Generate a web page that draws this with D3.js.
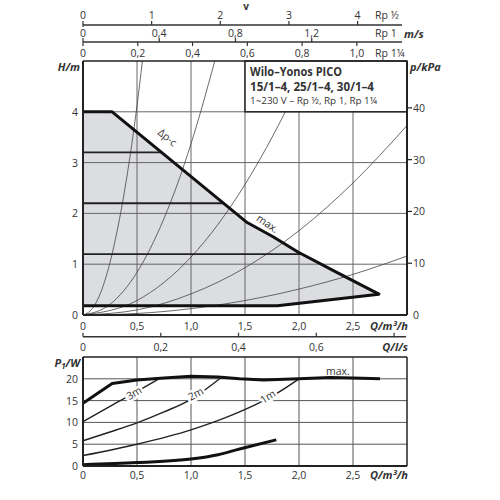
<!DOCTYPE html>
<html><head><meta charset="utf-8">
<script src="https://cdn.jsdelivr.net/npm/d3@7"></script>
<style>
body{margin:0;background:#fff}
svg{display:block}
text{font-family:"Open Sans","Noto Sans",sans-serif;fill:#333}
</style>
</head><body>
<svg id="c" width="500" height="500"></svg>
<script>
// ---------- data ----------
const qTicks = [0, 0.5, 1, 1.5, 2, 2.5];
const hTicks = [0, 1, 2, 3, 4];
const kpaTicks = [0, 10, 20, 30, 40];
const lsTicks = [0, 0.2, 0.4, 0.6, 0.8];
const lsLabelled = [0, 0.2, 0.4, 0.6];
const pTicks = [0, 5, 10, 15, 20];
const vTicksRpHalf = [0, 1, 2, 3, 4];
const vTicksRp1 = [0, 0.4, 0.8, 1.2];
const vTicksRp114 = [0, 0.2, 0.4, 0.6, 0.8, 1.0];
const pipeNames = ["Rp ½", "Rp 1", "Rp 1¼"];
const pipeVatQmax = [4.72, 1.70, 1.183];   // m/s at Q = 3 m³/h for each pipe size

// H-Q envelope (Δp-c / max / min)
const envQ = [0, 0.27, 1.52, 1.76, 1.99, 2.35, 2.74, 1.80, 0];
const envH = [4, 4, 1.82, 1.54, 1.24, 0.84, 0.41, 0.18, 0.18];
const dpcLevels = [3.2, 2.2, 1.2];

// system curves
const sysQ = [
  [0, 0.1, 0.2, 0.3, 0.4, 0.5, 0.55],
  [0, 0.25, 0.5, 0.75, 1.0, 1.1, 1.22],
  [0, 0.5, 1.0, 1.5, 1.7, 1.89, 2.1],
  [0, 0.5, 1.0, 1.5, 2.0, 2.5, 3.0],
  [0, 0.5, 1.0, 1.5, 2.0, 2.5, 3.0]
];
const sysH = [
  [0, 0.165, 0.66, 1.49, 2.64, 4.12, 5.0],
  [0, 0.21, 0.84, 1.9, 3.37, 4.08, 5.0],
  [0, 0.285, 1.14, 2.57, 3.3, 4.07, 5.0],
  [0, 0.10, 0.415, 0.93, 1.66, 2.6, 3.73],
  [0, 0.03, 0.125, 0.285, 0.51, 0.80, 1.16]
];

// power curves P1/W
const pMaxQ = [0, 0.27, 0.5, 0.75, 1.0, 1.25, 1.45, 1.67, 2.0, 2.29, 2.5, 2.75];
const pMaxP = [14.4, 18.9, 19.7, 20.2, 20.6, 20.4, 20.0, 19.7, 20.0, 20.3, 20.2, 20.0];
const p3Q = [0, 0.25, 0.5, 0.71];
const p3P = [10.2, 13.7, 17.1, 20.1];
const p2Q = [0, 0.25, 0.5, 0.75, 1.0, 1.28];
const p2P = [5.8, 7.8, 9.9, 12.4, 15.3, 20.3];
const p1Q = [0, 0.5, 1.0, 1.36, 1.64, 1.81, 2.0];
const p1P = [2.4, 5.0, 8.3, 11.5, 14.6, 16.9, 20.0];
const pMinQ = [0, 0.5, 1.0, 1.25, 1.45, 1.79];
const pMinP = [0.3, 0.8, 1.6, 2.6, 3.9, 6.0];
const curveLabels = ["3m", "2m", "1m"];
const curveLabelQ = [0.49, 1.06, 1.73];
const curveLabelP = [16.9, 16.7, 16.1];

// ---------- scales ----------
const svg = d3.select("#c");
const loc = d3.formatLocale({decimal: ",", thousands: ".", grouping: [3], currency: ["", ""]});
const f1 = d => d === 0 ? "0" : loc.format(".1f")(d);
const f0 = d => loc.format("d")(d);

const x = d3.scaleLinear().domain([0, 3]).range([83, 407]);
const yH = d3.scaleLinear().domain([0, 5]).range([315, 61]);
const yK = d3.scaleLinear().domain([0, 5 * 9.81]).range([315, 61]);
const yP = d3.scaleLinear().domain([0, 25]).range([466, 357]);
const xLs = d3.scaleLinear().domain([0, 3 / 3.6]).range([83, 407]);
const xV = pipeVatQmax.map(v => d3.scaleLinear().domain([0, v]).range([83, 407]));

const zip = (a, b) => a.map((d, i) => [d, b[i]]);
const lineH = d3.line().x(d => x(d[0])).y(d => yH(d[1]));
const lineP = d3.line().x(d => x(d[0])).y(d => yP(d[1]));

// ---------- top velocity axes ----------
const topG = svg.append("g");
const axA = 25, axB = 42;
topG.append("line").attr("x1", 83).attr("x2", 402).attr("y1", axA).attr("y2", axA).attr("stroke", "#333").attr("stroke-width", 1.5);
topG.append("line").attr("x1", 83).attr("x2", 402).attr("y1", axB).attr("y2", axB).attr("stroke", "#333").attr("stroke-width", 1.5);
topG.selectAll(".ta").data(vTicksRpHalf).join("line")
  .attr("x1", d => xV[0](d)).attr("x2", d => xV[0](d))
  .attr("y1", d => d === 0 ? axA + 2 : axA).attr("y2", axA - 4).attr("stroke", "#333").attr("stroke-width", 1.2);
topG.selectAll(".tal").data(vTicksRpHalf).join("text")
  .attr("x", d => xV[0](d)).attr("y", 19).attr("text-anchor", "middle").attr("font-size", 10.5).text(f0);
topG.selectAll(".tb").data(vTicksRp1).join("line")
  .attr("x1", d => xV[1](d)).attr("x2", d => xV[1](d))
  .attr("y1", axB).attr("y2", axB - 4).attr("stroke", "#333").attr("stroke-width", 1.2);
topG.selectAll(".tbl").data(vTicksRp1).join("text")
  .attr("x", d => xV[1](d)).attr("y", 37).attr("text-anchor", "middle").attr("font-size", 10.5).text(f1);
topG.selectAll(".tc").data(vTicksRp114).join("line")
  .attr("x1", d => xV[2](d)).attr("x2", d => xV[2](d))
  .attr("y1", axB).attr("y2", axB + 4).attr("stroke", "#333").attr("stroke-width", 1.2);
topG.selectAll(".tcl").data(vTicksRp114).join("text")
  .attr("x", d => xV[2](d)).attr("y", 57).attr("text-anchor", "middle").attr("font-size", 10.5).text(f1);
topG.selectAll(".pn").data(pipeNames).join("text")
  .attr("x", 375).attr("y", (d, i) => [19, 37, 57][i]).attr("font-size", 10.5).text(d => d);
topG.append("text").attr("x", 404).attr("y", 38).attr("font-size", 11).attr("font-weight", "bold").attr("font-style", "italic").attr("fill", "#222").text("m/s");
topG.append("text").attr("x", 246).attr("y", 10).attr("text-anchor", "middle").attr("font-size", 10).attr("font-weight", "bold").attr("fill", "#222").text("v");

// ---------- main H-Q chart ----------
const main = svg.append("g");
main.append("path")
  .attr("d", lineH(zip(envQ, envH)) + "Z")
  .attr("fill", "#dcdde0").attr("stroke", "none");

// grid
main.selectAll(".gv").data(qTicks.slice(1)).join("line")
  .attr("x1", d => x(d)).attr("x2", d => x(d)).attr("y1", yH(0)).attr("y2", yH(5))
  .attr("stroke", "#666").attr("stroke-width", 1);
main.selectAll(".gh").data(hTicks.slice(1)).join("line")
  .attr("x1", x(0)).attr("x2", x(3)).attr("y1", d => yH(d)).attr("y2", d => yH(d))
  .attr("stroke", "#666").attr("stroke-width", 1);

// system curves
main.append("clipPath").attr("id", "clipH").append("rect")
  .attr("x", x(0)).attr("y", yH(5)).attr("width", x(3) - x(0)).attr("height", yH(0) - yH(5));
const sysG = main.append("g").attr("clip-path", "url(#clipH)");
const lineHs = d3.line().x(d => x(d[0])).y(d => yH(d[1])).curve(d3.curveMonotoneX);
sysQ.forEach((qs, i) => {
  sysG.append("path").attr("d", lineHs(zip(qs, sysH[i])))
    .attr("fill", "none").attr("stroke", "#444").attr("stroke-width", 0.8);
});

// Δp-c setting lines: from axis to the envelope's falling edge
const fall = zip(envQ, envH).slice(1, 7);
function qAtH(h) {
  for (let i = 0; i < fall.length - 1; i++) {
    const [q0, h0] = fall[i], [q1, h1] = fall[i + 1];
    if (h <= h0 && h >= h1) return q0 + (h0 - h) / (h0 - h1) * (q1 - q0);
  }
  return fall[fall.length - 1][0];
}
main.selectAll(".dpc").data(dpcLevels).join("line")
  .attr("x1", x(0)).attr("x2", d => x(qAtH(d))).attr("y1", d => yH(d)).attr("y2", d => yH(d))
  .attr("stroke", "#222").attr("stroke-width", 1.8);

// envelope thick outline
main.append("path").attr("d", lineH(zip(envQ, envH)))
  .attr("fill", "none").attr("stroke", "#111").attr("stroke-width", 3).attr("stroke-linejoin", "round");

// title box
main.append("rect").attr("x", x(1.5)).attr("y", yH(5)).attr("width", x(3) - x(1.5)).attr("height", yH(4) - yH(5))
  .attr("fill", "#fff").attr("stroke", "#222").attr("stroke-width", 1.5);
main.append("text").attr("x", 250).attr("y", 76).attr("font-size", 11.5).attr("font-weight", "bold").attr("fill", "#222")
  .attr("textLength", 92).attr("lengthAdjust", "spacingAndGlyphs").text("Wilo–Yonos PICO");
main.append("text").attr("x", 250).attr("y", 91).attr("font-size", 12).attr("font-weight", "bold").attr("fill", "#222")
  .attr("textLength", 124).attr("lengthAdjust", "spacingAndGlyphs").text("15/1–4, 25/1–4, 30/1–4");
main.append("text").attr("x", 250).attr("y", 104).attr("font-size", 9.5).attr("fill", "#444")
  .attr("textLength", 127).attr("lengthAdjust", "spacingAndGlyphs").text("1~230 V – Rp ½, Rp 1, Rp 1¼");

// borders
main.append("line").attr("x1", x(0)).attr("x2", x(3)).attr("y1", yH(5)).attr("y2", yH(5)).attr("stroke", "#222").attr("stroke-width", 1.5);
main.append("line").attr("x1", x(0)).attr("x2", x(3)).attr("y1", yH(0)).attr("y2", yH(0)).attr("stroke", "#222").attr("stroke-width", 2);
main.append("line").attr("x1", x(0)).attr("x2", x(0)).attr("y1", yH(0)).attr("y2", yH(5)).attr("stroke", "#222").attr("stroke-width", 2);
main.append("line").attr("x1", x(3)).attr("x2", x(3)).attr("y1", yH(0)).attr("y2", yH(5)).attr("stroke", "#222").attr("stroke-width", 2);

// tick labels
main.selectAll(".hl").data(hTicks).join("text")
  .attr("x", 78).attr("y", d => yH(d) + 4).attr("text-anchor", "end").attr("font-size", 10.5).text(f0);
main.selectAll(".kt").data(kpaTicks.slice(1)).join("line")
  .attr("x1", x(3)).attr("x2", x(3) + 5).attr("y1", d => yK(d)).attr("y2", d => yK(d)).attr("stroke", "#222").attr("stroke-width", 1.2);
main.selectAll(".kl").data(kpaTicks).join("text")
  .attr("x", x(3) + 6).attr("y", d => yK(d) + 4).attr("font-size", 10.5).text(f0);
main.selectAll(".ql").data(qTicks).join("text")
  .attr("x", d => x(d)).attr("y", 330).attr("text-anchor", "middle").attr("font-size", 10.5).text(f1);
main.append("text").attr("x", 408).attr("y", 330).attr("text-anchor", "end").attr("font-size", 11).attr("font-weight", "bold").attr("font-style", "italic").attr("fill", "#222").text("Q/m³/h");
main.append("text").attr("x", 80).attr("y", 71).attr("text-anchor", "end").attr("font-size", 11).attr("font-weight", "bold").attr("font-style", "italic").attr("fill", "#222").text("H/m");
main.append("text").attr("x", 410).attr("y", 71).attr("font-size", 11).attr("font-weight", "bold").attr("font-style", "italic").attr("fill", "#222").text("p/kPa");

// curve labels in main chart
main.append("text").attr("transform", `translate(${x(0.76)},${yH(3.44)}) rotate(39)`)
  .attr("text-anchor", "middle").attr("font-size", 10.5).text("Δp-c");
main.append("text").attr("transform", `translate(${x(1.69)},${yH(1.74)}) rotate(34)`)
  .attr("text-anchor", "middle").attr("font-size", 10.5).text("max.");

// ---------- l/s axis ----------
const ls = svg.append("g");
const axL = 336.7;
ls.append("line").attr("x1", 83).attr("x2", 406).attr("y1", axL).attr("y2", axL).attr("stroke", "#333").attr("stroke-width", 1.5);
ls.selectAll(".lt").data(lsTicks).join("line")
  .attr("x1", d => xLs(d)).attr("x2", d => xLs(d)).attr("y1", axL).attr("y2", axL - 4).attr("stroke", "#333").attr("stroke-width", 1.2);
ls.selectAll(".ll").data(lsLabelled).join("text")
  .attr("x", d => xLs(d)).attr("y", 351).attr("text-anchor", "middle").attr("font-size", 10.5).text(f1);
ls.append("text").attr("x", 408).attr("y", 351).attr("text-anchor", "end").attr("font-size", 11).attr("font-weight", "bold").attr("font-style", "italic").attr("fill", "#222").text("Q/l/s");

// ---------- power chart ----------
const pw = svg.append("g");
pw.selectAll(".pgv").data(qTicks.slice(1)).join("line")
  .attr("x1", d => x(d)).attr("x2", d => x(d)).attr("y1", yP(0)).attr("y2", yP(25)).attr("stroke", "#555").attr("stroke-width", 1);
pw.selectAll(".pgh").data(pTicks.slice(1)).join("line")
  .attr("x1", x(0)).attr("x2", x(3)).attr("y1", d => yP(d)).attr("y2", d => yP(d)).attr("stroke", "#555").attr("stroke-width", 1);

const linePs = d3.line().x(d => x(d[0])).y(d => yP(d[1])).curve(d3.curveMonotoneX);
const thin = [[p3Q, p3P], [p2Q, p2P], [p1Q, p1P]];
thin.forEach(([q, p]) => {
  pw.append("path").attr("d", linePs(zip(q, p)))
    .attr("fill", "none").attr("stroke", "#222").attr("stroke-width", 1.4);
});
pw.append("path").attr("d", linePs(zip(pMinQ, pMinP)))
  .attr("fill", "none").attr("stroke", "#111").attr("stroke-width", 3);
pw.append("path").attr("d", lineP(zip(pMaxQ, pMaxP)))
  .attr("fill", "none").attr("stroke", "#111").attr("stroke-width", 3).attr("stroke-linejoin", "round");

const rot = [-31, -28, -33];
pw.selectAll(".cl").data(curveLabels).join("text")
  .attr("transform", (d, i) => `translate(${x(curveLabelQ[i])},${yP(curveLabelP[i]) + 4}) rotate(${rot[i]})`)
  .attr("text-anchor", "middle").attr("font-size", 10.5)
  .attr("stroke", "#fff").attr("stroke-width", 5).attr("paint-order", "stroke").text(d => d);
pw.append("text").attr("x", x(2.36)).attr("y", yP(21.7) + 4).attr("text-anchor", "middle").attr("font-size", 10.5).text("max.");

pw.append("line").attr("x1", x(0)).attr("x2", x(3)).attr("y1", yP(25)).attr("y2", yP(25)).attr("stroke", "#222").attr("stroke-width", 1.5);
pw.append("line").attr("x1", x(0)).attr("x2", x(3)).attr("y1", yP(0)).attr("y2", yP(0)).attr("stroke", "#222").attr("stroke-width", 2);
pw.append("line").attr("x1", x(0)).attr("x2", x(0)).attr("y1", yP(0)).attr("y2", yP(25)).attr("stroke", "#222").attr("stroke-width", 2);
pw.append("line").attr("x1", x(3)).attr("x2", x(3)).attr("y1", yP(0)).attr("y2", yP(25)).attr("stroke", "#222").attr("stroke-width", 1.5);

pw.selectAll(".pl").data(pTicks).join("text")
  .attr("x", 78).attr("y", d => yP(d) + 4).attr("text-anchor", "end").attr("font-size", 10.5).text(f0);
pw.selectAll(".pql").data(qTicks).join("text")
  .attr("x", d => x(d)).attr("y", 479).attr("text-anchor", "middle").attr("font-size", 10.5).text(f1);
pw.append("text").attr("x", 408).attr("y", 479).attr("text-anchor", "end").attr("font-size", 11).attr("font-weight", "bold").attr("font-style", "italic").attr("fill", "#222").text("Q/m³/h");
const pl = pw.append("text").attr("x", 80).attr("y", 367).attr("text-anchor", "end").attr("font-size", 11).attr("font-weight", "bold").attr("font-style", "italic").attr("fill", "#222");
pl.append("tspan").text("P");
pl.append("tspan").attr("font-size", 8).attr("dy", 2).text("1");
pl.append("tspan").attr("dy", -2).text("/W");
</script>
</body></html>
